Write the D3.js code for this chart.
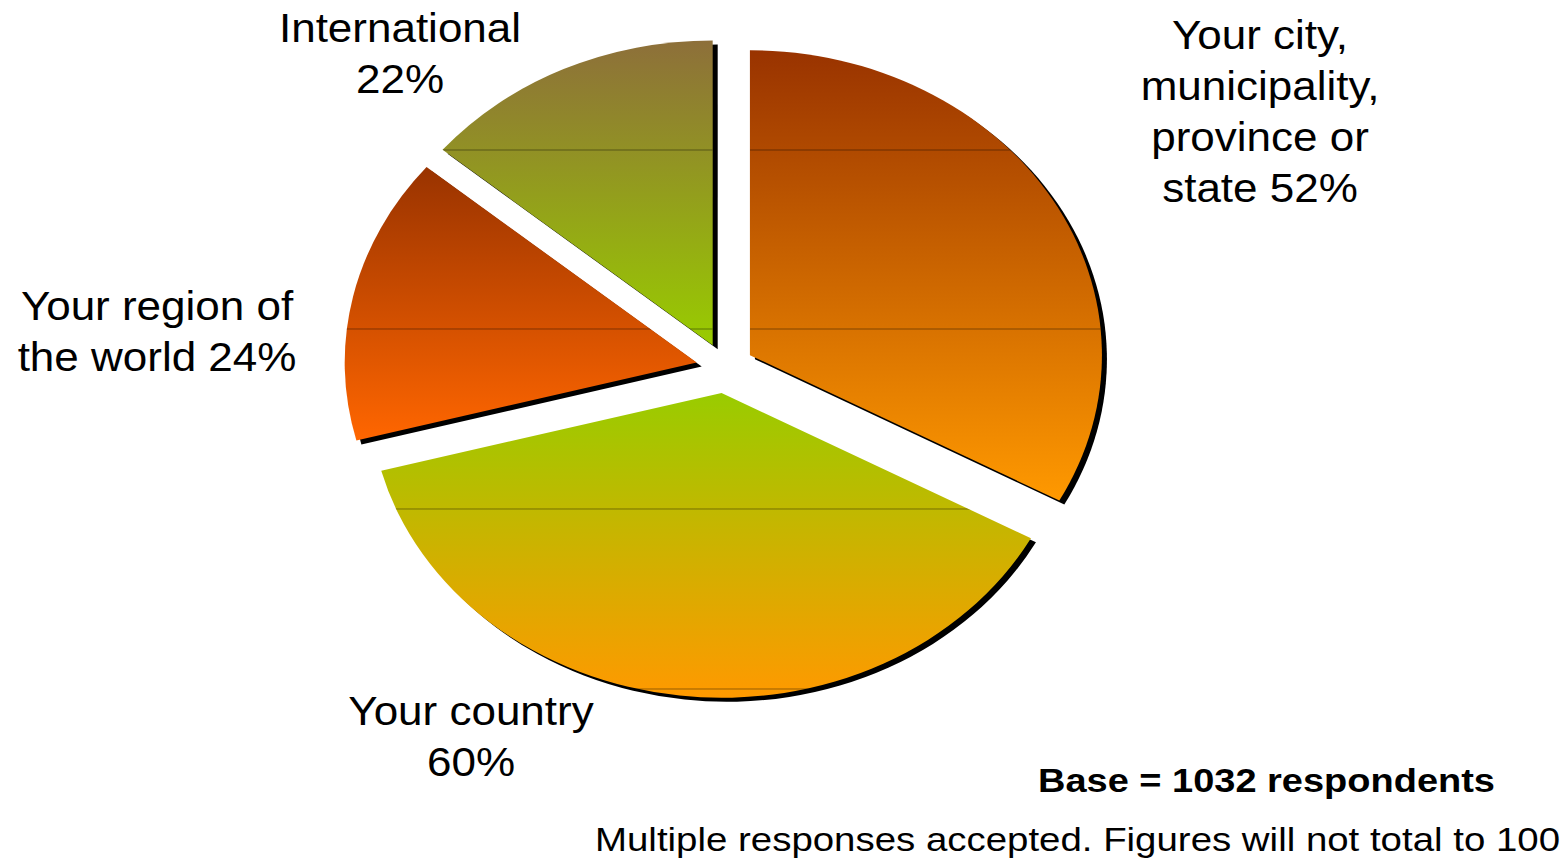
<!DOCTYPE html>
<html>
<head>
<meta charset="utf-8">
<script src="https://cdn.jsdelivr.net/npm/d3@7"></script>
<style>
  html, body { margin: 0; padding: 0; background: #fff; }
  svg { display: block; }
  text { font-family: "Liberation Sans", Arial, sans-serif; fill: #000; }
</style>
</head>
<body>
<svg id="chart" width="1568" height="860"></svg>
<script>
// ---- data ----
const categories = ["Your city, municipality, province or state", "Your country", "Your region of the world", "International"];
const values = [52, 60, 24, 22];
const labelLines = [
  ["Your city,", "municipality,", "province or", "state 52%"],
  ["Your country", "60%"],
  ["Your region of", "the world 24%"],
  ["International", "22%"]
];
const gradientColors = [
  ["#993300", "#ff9900"],
  ["#99cc00", "#ff9900"],
  ["#993300", "#ff6600"],
  ["#8d6f3a", "#99cc00"]
];
const baseNote = "Base = 1032 respondents";
const footNote = "Multiple responses accepted. Figures will not total to 100";

// ---- layout ----
const W = 1568, H = 860;
const cx = 725, cy = 368, r = 352, sy = 0.866, explode = 29;
const shadowDx = 5, shadowDy = 4;
const bandYs = [150, 329, 509, 689]; // banding lines of the gradient fill (screen y)

const svg = d3.select("#chart");
const defs = svg.append("defs");

const pie = d3.pie().sort(null).value(d => d).startAngle(0).endAngle(2 * Math.PI);
const arcs = pie(values);
const arc = d3.arc().innerRadius(0).outerRadius(r);

arcs.forEach((a, i) => {
  const g = defs.append("linearGradient")
    .attr("id", "grad" + i)
    .attr("x1", 0).attr("y1", 0).attr("x2", 0).attr("y2", 1);
  g.append("stop").attr("offset", "0%").attr("stop-color", gradientColors[i][0]);
  g.append("stop").attr("offset", "100%").attr("stop-color", gradientColors[i][1]);
  defs.append("clipPath").attr("id", "clip" + i)
    .append("path").attr("d", arc(a));
});

const pieG = svg.append("g").attr("transform", `translate(${cx},${cy}) scale(1,${sy})`);

function offset(a) {
  const mid = (a.startAngle + a.endAngle) / 2;
  return [explode * Math.sin(mid), -explode * Math.cos(mid)];
}

// shadows
pieG.selectAll("path.shadow").data(arcs).join("path")
  .attr("class", "shadow")
  .attr("d", arc)
  .attr("fill", "#000")
  .attr("transform", d => {
    const [ox, oy] = offset(d);
    return `translate(${ox + shadowDx},${oy + shadowDy / sy})`;
  });

// slices
const sliceG = pieG.selectAll("g.slice").data(arcs).join("g")
  .attr("class", "slice")
  .attr("transform", d => { const [ox, oy] = offset(d); return `translate(${ox},${oy})`; });

sliceG.append("path")
  .attr("d", arc)
  .attr("fill", (d, i) => `url(#grad${i})`);

sliceG.each(function (d, i) {
  const [ox, oy] = offset(d);
  const lg = d3.select(this).append("g").attr("clip-path", `url(#clip${i})`);
  bandYs.forEach(y => {
    const ly = (y - cy) / sy - oy;
    lg.append("line")
      .attr("x1", -r - 10).attr("x2", r + 10)
      .attr("y1", ly).attr("y2", ly)
      .attr("stroke", "#000").attr("stroke-opacity", 0.4)
      .attr("stroke-width", 1)
      .attr("vector-effect", "non-scaling-stroke");
  });
});

// labels
const labelPos = [
  { x: 1260, y: 49 },
  { x: 471, y: 725 },
  { x: 157, y: 320 },
  { x: 400, y: 42 }
];
const lineGap = 51;
labelLines.forEach((lines, i) => {
  const g = svg.append("g")
    .attr("transform", `translate(${labelPos[i].x},${labelPos[i].y}) scale(1.1,1)`);
  lines.forEach((t, j) => {
    g.append("text")
      .attr("x", 0).attr("y", j * lineGap)
      .attr("text-anchor", "middle")
      .attr("font-size", 40)
      .text(t);
  });
});

svg.append("text")
  .attr("x", 1038).attr("y", 792)
  .attr("font-size", 33).attr("font-weight", "bold")
  .attr("textLength", 457).attr("lengthAdjust", "spacingAndGlyphs")
  .text(baseNote);

svg.append("text")
  .attr("x", 595).attr("y", 851)
  .attr("font-size", 33)
  .attr("textLength", 965).attr("lengthAdjust", "spacingAndGlyphs")
  .text(footNote);
</script>
</body>
</html>
